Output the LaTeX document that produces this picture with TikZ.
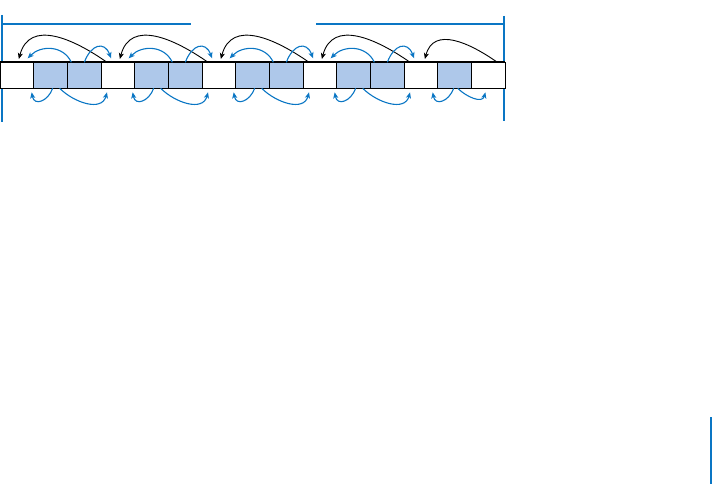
\documentclass[tikz,border=0pt]{standalone}
\usepackage{xcolor}
\usepackage{tikz}
\usetikzlibrary{arrows.meta,positioning}

\definecolor{blockblue}{RGB}{174,200,234}
\definecolor{linkblue}{RGB}{10,118,196}

\begin{document}
\begin{tikzpicture}[
  x=1pt, y=1pt,
  cell/.style={rectangle, draw=black, line width=0.9pt, inner sep=0pt, outer sep=0pt,
               minimum width=33.67pt, minimum height=26pt},
  free/.style={cell, fill=white},
  used/.style={cell, fill=blockblue},
  frame/.style={draw=linkblue, line width=1.2pt},
  fwd/.style={draw=black, line width=0.9pt, -{Stealth[length=6pt,width=5pt,inset=1.5pt]}},
  lnk/.style={draw=linkblue, line width=1.1pt, -{Stealth[length=6pt,width=5pt,inset=1.5pt]}}
]
  \useasboundingbox (0,0) rectangle (712,-484);

  % outer frame
  \draw[frame] (2,-15) -- (2,-122);
  \draw[frame] (2,-24) -- (191,-24);
  \draw[frame] (316,-24) -- (504,-24);
  \draw[frame] (504,-16) -- (504,-121);
  \draw[frame] (711,-417) -- (711,-484);

  % heap cells
  \foreach \i/\k in {0/free,1/used,2/used,3/free,4/used,5/used,6/free,7/used,
                     8/used,9/free,10/used,11/used,12/free,13/used,14/free}
    \node[\k] (c\i) at (16.835+\i*33.67,-75.3) {};
  \draw[line width=1.8pt] (c0.north west) -- (c14.north east);

  % links for the two-cell blocks
  \foreach \s [evaluate=\s as \p using int(\s-1),
               evaluate=\s as \n using int(\s+1),
               evaluate=\s as \q using int(\s+2)] in {1,4,7,10} {
    \draw[fwd] ([xshift=6pt]c\q.north west) to[out=145, in=75, looseness=1.2]
      ([xshift=2pt,yshift=3.3pt]c\p.north);
    \draw[lnk] ([xshift=4pt]c\n.north west) to[out=115, in=45, looseness=1.1]
      ([xshift=-6pt,yshift=4pt]c\s.north west);
    \draw[lnk] ([xshift=17pt]c\n.north west) to[out=70, in=110, looseness=1.8]
      ([xshift=10pt,yshift=4pt]c\q.north west);
    \draw[lnk] ([xshift=19pt]c\s.south west) to[out=-110, in=-80, looseness=1.7]
      ([xshift=-2pt,yshift=-4pt]c\s.south west);
    \draw[lnk] ([xshift=26pt]c\s.south west) to[out=-45, in=-105, looseness=1.1]
      ([xshift=6pt,yshift=-4pt]c\q.south west);
  }

  % links for the one-cell block
  \draw[fwd] ([xshift=26pt]c14.north west) to[out=145, in=75, looseness=1.2]
    ([xshift=4pt,yshift=3.3pt]c12.north);
  \draw[lnk] ([xshift=16pt]c13.south west) to[out=-110, in=-80, looseness=1.7]
    ([xshift=-5pt,yshift=-4pt]c13.south west);
  \draw[lnk] ([xshift=20pt]c13.south west) to[out=-45, in=-105, looseness=1.1]
    ([xshift=14pt,yshift=-4pt]c13.south east);
\end{tikzpicture}
\end{document}
